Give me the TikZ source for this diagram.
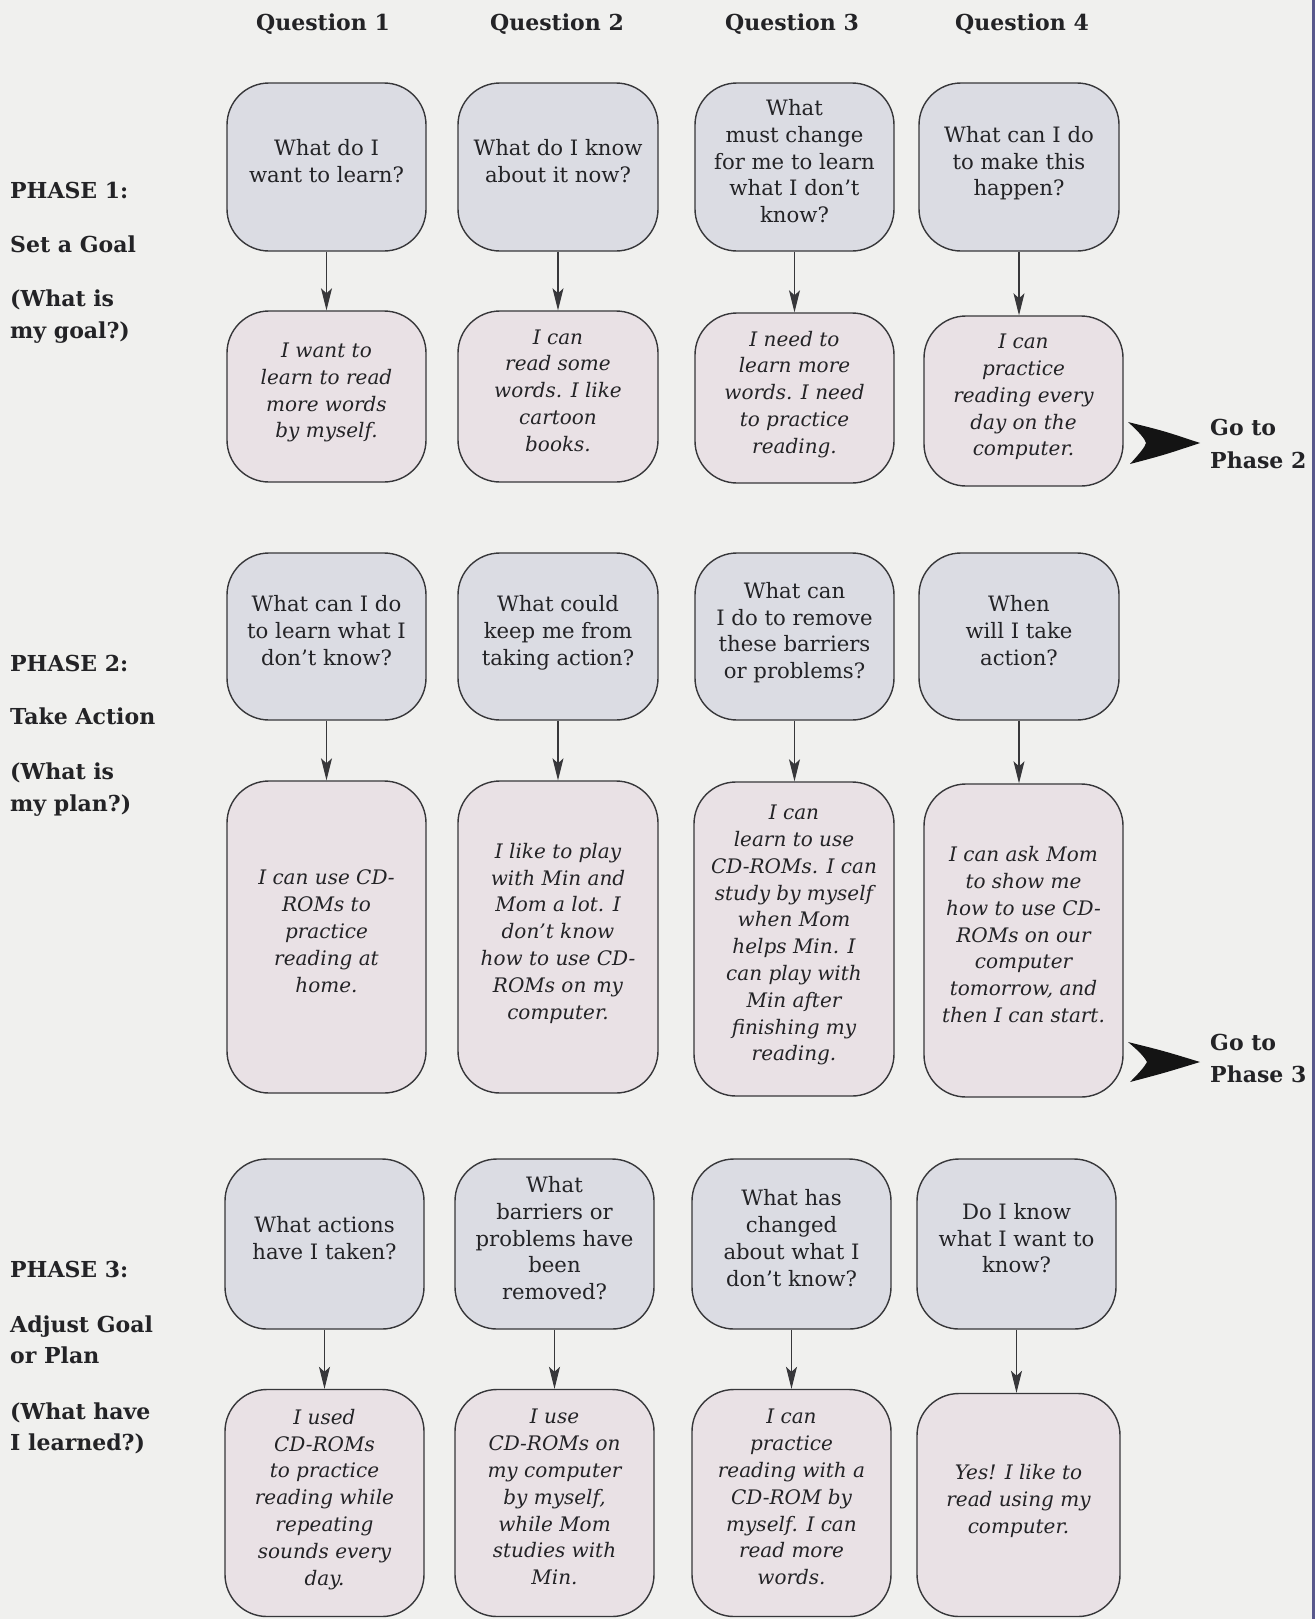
\documentclass[tikz,border=0pt]{standalone}
\usepackage{fontspec}
\setmainfont{DejaVu Serif}
\usetikzlibrary{arrows.meta}
\definecolor{bg}{RGB}{240,240,238}
\definecolor{qfill}{RGB}{219,220,227}
\definecolor{afill}{RGB}{233,225,229}
\definecolor{bordc}{RGB}{55,55,58}
\definecolor{txt}{RGB}{35,35,38}
\definecolor{edgec}{RGB}{88,88,140}
\begin{document}
\begin{tikzpicture}[x=1pt,y=-1pt,
  box/.style={draw=bordc, line width=1.4pt, rounded corners=42pt, align=center, inner sep=0pt, text=txt, text depth=12pt},
  qbox/.style={box, fill=qfill, font=\fontsize{21.2}{26.8}\selectfont},
  abox/.style={box, fill=afill, font=\fontsize{20}{26.8}\selectfont\itshape},
  flow/.style={draw=bordc, line width=1.1pt, -{Stealth[length=22pt,width=11pt,inset=5pt]}},
  head/.style={font=\fontsize{22}{25}\selectfont\bfseries, text=txt, anchor=mid, inner sep=0pt},
  side/.style={font=\fontsize{22}{25}\selectfont\bfseries, text=txt, anchor=mid west, inner sep=0pt},
  bigarrow/.style={fill=black!92},
]
\useasboundingbox (0,0) rectangle (1315,1619);
\fill[bg] (0,0) rectangle (1315,1619);
\fill[edgec] (1311.5,0) rectangle (1315,1619);

% headers
\node[head] (h1) at (323,28) {Question 1};
\node[head] (h2) at (557,28) {Question 2};
\node[head] (h3) at (792,28) {Question 3};
\node[head] (h4) at (1022,28) {Question 4};

% side labels
\node[side] (p1a) at (10,196) {PHASE 1:};
\node[side] (p1b) at (10,250) {Set a Goal};
\node[side] (p1c) at (10,304) {(What is};
\node[side] (p1d) at (10,336) {my goal?)};
\node[side] (p2a) at (10,669) {PHASE 2:};
\node[side] (p2b) at (10,722) {Take Action};
\node[side] (p2c) at (10,777) {(What is};
\node[side] (p2d) at (10,809) {my plan?)};
\node[side] (p3a) at (10,1275) {PHASE 3:};
\node[side] (p3b) at (10,1330) {Adjust Goal};
\node[side] (p3c) at (10,1361) {or Plan};
\node[side] (p3d) at (10,1417) {(What have};
\node[side] (p3e) at (10,1448) {I learned?)};

% Phase 1
\node[qbox, minimum width=199pt, minimum height=168pt] (q11) at (326.5,167) {What do I\\want to learn?};
\node[qbox, minimum width=200pt, minimum height=168pt] (q12) at (558,167) {What do I know\\about it now?};
\node[qbox, minimum width=199pt, minimum height=168pt] (q13) at (794.5,167) {What\\must change\\for me to learn\\what I don’t\\know?};
\node[qbox, minimum width=200pt, minimum height=168pt] (q14) at (1019,167) {What can I do\\to make this\\happen?};

\node[abox, minimum width=199pt, minimum height=171pt] (a11) at (326.5,396.5) {I want to\\learn to read\\more words\\by myself.};
\node[abox, minimum width=200pt, minimum height=171pt] (a12) at (558,396.5) {I can\\read some\\words. I like\\cartoon\\books.};
\node[abox, minimum width=199pt, minimum height=170pt] (a13) at (794.5,398) {I need to\\learn more\\words. I need\\to practice\\reading.};
\node[abox, minimum width=199pt, minimum height=170pt] (a14) at (1023.5,401) {I can\\practice\\reading every\\day on the\\computer.};

% Phase 2
\node[qbox, minimum width=199pt, minimum height=167pt] (q21) at (326.5,636.5) {What can I do\\to learn what I\\don’t know?};
\node[qbox, minimum width=200pt, minimum height=167pt] (q22) at (558,636.5) {What could\\keep me from\\taking action?};
\node[qbox, minimum width=199pt, minimum height=167pt] (q23) at (794.5,636.5) {What can\\I do to remove\\these barriers\\or problems?};
\node[qbox, minimum width=200pt, minimum height=167pt] (q24) at (1019,636.5) {When\\will I take\\action?};

\node[abox, minimum width=199pt, minimum height=312pt] (a21) at (326.5,937) {I can use CD-\\ROMs to\\practice\\reading at\\home.};
\node[abox, minimum width=200pt, minimum height=312pt] (a22) at (558,937) {I like to play\\with Min and\\Mom a lot. I\\don’t know\\how to use CD-\\ROMs on my\\computer.};
\node[abox, minimum width=200pt, minimum height=314pt] (a23) at (794,939) {I can\\learn to use\\CD-ROMs. I can\\study by myself\\when Mom\\helps Min. I\\can play with\\Min after\\finishing my\\reading.};
\node[abox, minimum width=199pt, minimum height=313pt] (a24) at (1023.5,940.5) {I can ask Mom\\to show me\\how to use CD-\\ROMs on our\\computer\\tomorrow, and\\then I can start.};

% Phase 3
\node[qbox, minimum width=199pt, minimum height=170pt] (q31) at (324.5,1244) {What actions\\have I taken?};
\node[qbox, minimum width=199pt, minimum height=170pt] (q32) at (554.5,1244) {What\\barriers or\\problems have\\been\\removed?};
\node[qbox, minimum width=199pt, minimum height=170pt] (q33) at (791.5,1244) {What has\\changed\\about what I\\don’t know?};
\node[qbox, minimum width=199pt, minimum height=170pt] (q34) at (1016.5,1244) {Do I know\\what I want to\\know?};

\node[abox, minimum width=199pt, minimum height=227pt] (a31) at (324.5,1503) {I used\\CD-ROMs\\to practice\\reading while\\repeating\\sounds every\\day.};
\node[abox, minimum width=199pt, minimum height=227pt] (a32) at (554.5,1503) {I use\\CD-ROMs on\\my computer\\by myself,\\while Mom\\studies with\\Min.};
\node[abox, minimum width=199pt, minimum height=227pt] (a33) at (791.5,1503) {I can\\practice\\reading with a\\CD-ROM by\\myself. I can\\read more\\words.};
\node[abox, minimum width=203pt, minimum height=223pt] (a34) at (1018.5,1505) {Yes! I like to\\read using my\\computer.};

% connectors
\foreach \r in {1,2,3}{
  \foreach \c in {1,2,3,4}{
    \draw[flow] (q\r\c.south) -- (q\r\c.south |- a\r\c.north);
  }
}

% Go to labels
\node[side] (go2a) at (1210,433) {Go to};
\node[side] (go2b) at (1210,466) {Phase 2};
\node[side] (go3a) at (1210,1048) {Go to};
\node[side] (go3b) at (1210,1080) {Phase 3};

\coordinate (t2) at (1200,443);
\coordinate (t3) at (1200,1062);
\fill[bigarrow] ([shift={(-72,-21)}]t2) .. controls ([shift={(-36,-12)}]t2) .. (t2)
  .. controls ([shift={(-36,12)}]t2) .. ([shift={(-70,21)}]t2)
  .. controls ([shift={(-60,10)}]t2) and ([shift={(-55,4)}]t2) .. ([shift={(-54,0)}]t2)
  .. controls ([shift={(-55,-4)}]t2) and ([shift={(-60,-10)}]t2) .. ([shift={(-72,-21)}]t2) -- cycle;
\fill[bigarrow] ([shift={(-72,-20)}]t3) .. controls ([shift={(-36,-11)}]t3) .. (t3)
  .. controls ([shift={(-36,11)}]t3) .. ([shift={(-70,20)}]t3)
  .. controls ([shift={(-60,10)}]t3) and ([shift={(-55,4)}]t3) .. ([shift={(-53,0)}]t3)
  .. controls ([shift={(-55,-4)}]t3) and ([shift={(-60,-10)}]t3) .. ([shift={(-72,-20)}]t3) -- cycle;
\end{tikzpicture}
\end{document}
